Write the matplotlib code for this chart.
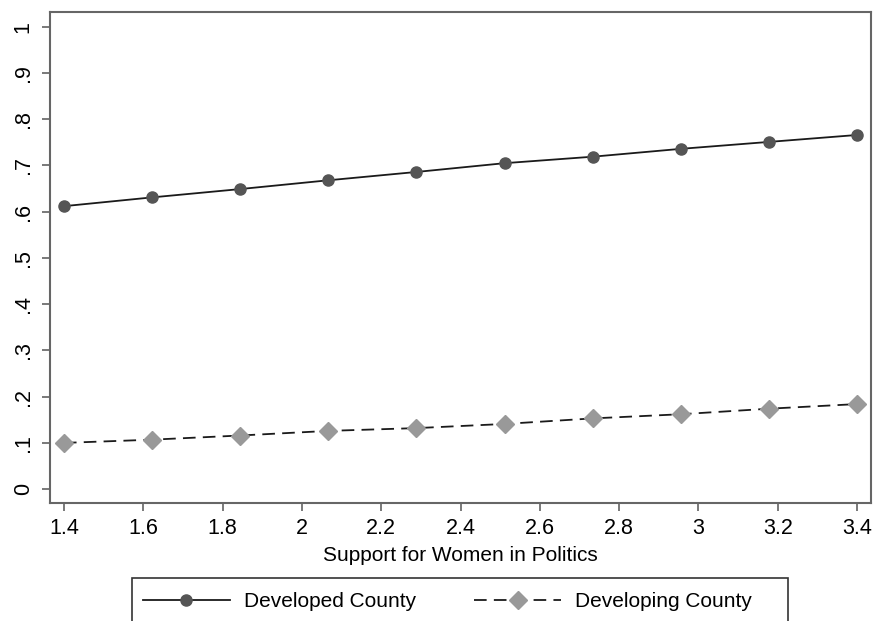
import numpy as np
import matplotlib.pyplot as plt
from matplotlib.patches import Rectangle

plt.rcParams['font.family'] = ['Liberation Sans', 'DejaVu Sans']

# predicted values over support for women in politics
support = np.linspace(1.4, 3.4, 10)
developed = [0.612, 0.631, 0.649, 0.668, 0.686, 0.705, 0.719, 0.736, 0.751, 0.766]
developing = [0.100, 0.107, 0.116, 0.126, 0.132, 0.141, 0.153, 0.162, 0.174, 0.184]

x_ticks = [1.4, 1.6, 1.8, 2, 2.2, 2.4, 2.6, 2.8, 3, 3.2, 3.4]
x_labels = ['1.4', '1.6', '1.8', '2', '2.2', '2.4', '2.6', '2.8', '3', '3.2', '3.4']
y_ticks = [0, 0.1, 0.2, 0.3, 0.4, 0.5, 0.6, 0.7, 0.8, 0.9, 1]
y_labels = ['0', '.1', '.2', '.3', '.4', '.5', '.6', '.7', '.8', '.9', '1']

fig = plt.figure(figsize=(8.76, 6.21), dpi=100)
ax = fig.add_axes([0.0571, 0.19, 0.9372, 0.7907])

ax.plot(support, developed, color='#1a1a1a', lw=1.3, marker='o', ms=8,
        mfc='#555555', mec='#555555', label='Developed County')
ax.plot(support, developing, color='#1a1a1a', lw=1.3, dashes=(7, 4), marker='D', ms=9,
        mfc='#999999', mec='#999999', label='Developing County')

ax.set_xlim(1.365, 3.435)
ax.set_ylim(-0.030, 1.032)
ax.set_xticks(x_ticks)
ax.set_xticklabels(x_labels)
ax.set_yticks(y_ticks)
ax.set_yticklabels(y_labels, rotation=90, va='center')
ax.tick_params(direction='out', length=5.8, width=1.1, color='#555555',
               labelsize=15.5)
ax.tick_params(axis='x', pad=5)
ax.tick_params(axis='y', pad=6)
for s in ax.spines.values():
    s.set_color('#666666')
    s.set_linewidth(1.5)

ax.set_xlabel('Support for Women in Politics', fontsize=15, labelpad=5)

# legend entries, with the box drawn separately below
leg = fig.legend(loc='center left', bbox_to_anchor=(0.1632, 0.0306), ncol=2,
                 fontsize=15, frameon=False, handlelength=4.17,
                 columnspacing=2.8, handletextpad=0.67, borderpad=0,
                 borderaxespad=0)
fig.patches.append(Rectangle((0.1507, -0.05), 0.7488, 0.1192,
                             transform=fig.transFigure, fill=False,
                             edgecolor='#333333', lw=1.2))

fig.savefig('out.png', dpi=100)
